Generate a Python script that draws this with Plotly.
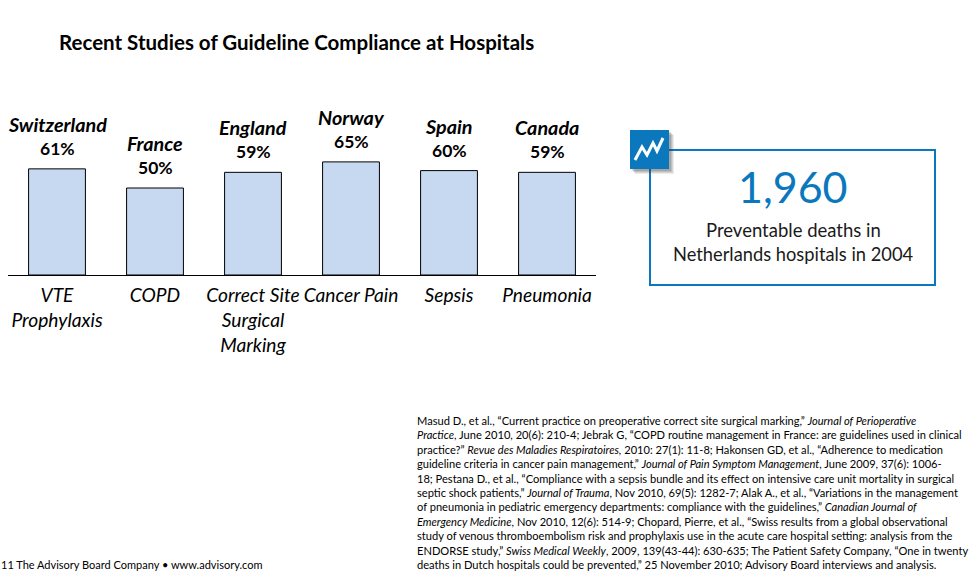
import plotly.graph_objects as go

categories = ["<i>VTE<br>Prophylaxis</i>", "<i>COPD</i>", "<i>Correct Site<br>Surgical<br>Marking</i>", "<i>Cancer Pain</i>", "<i>Sepsis</i>", "<i>Pneumonia</i>"]
countries = ["Switzerland", "France", "England", "Norway", "Spain", "Canada"]
values = [61, 50, 59, 65, 60, 59]
title_text = "Recent Studies of Guideline Compliance at Hospitals"
callout_number = "1,960"
callout_lines = ["Preventable deaths in", "Netherlands hospitals in 2004"]
footer_text = "11 The Advisory Board Company • www.advisory.com"
source_lines = [
    "Masud D., et al., “Current practice on preoperative correct site surgical marking,” <i>Journal of Perioperative</i>",
    "<i>Practice</i>, June 2010, 20(6): 210-4; Jebrak G, “COPD routine management in France: are guidelines used in clinical",
    "practice?” <i>Revue des Maladies Respiratoires,</i> 2010: 27(1): 11-8; Hakonsen GD, et al., “Adherence to medication",
    "guideline criteria in cancer pain management,” <i>Journal of Pain Symptom Management</i>, June 2009, 37(6): 1006-",
    "18; Pestana D., et al., “Compliance with a sepsis bundle and its effect on intensive care unit mortality in surgical",
    "septic shock patients,” <i>Journal of Trauma</i>, Nov 2010, 69(5): 1282-7; Alak A., et al., “Variations in the management",
    "of pneumonia in pediatric emergency departments: compliance with the guidelines,” <i>Canadian Journal of</i>",
    "<i>Emergency Medicine</i>, Nov 2010, 12(6): 514-9; Chopard, Pierre, et al., “Swiss results from a global observational",
    "study of venous thromboembolism risk and prophylaxis use in the acute care hospital setting: analysis from the",
    "ENDORSE study,” <i>Swiss Medical Weekly</i>, 2009, 139(43-44): 630-635; The Patient Safety Company, “One in twenty",
    "deaths in Dutch hospitals could be prevented,” 25 November 2010; Advisory Board interviews and analysis.",
]

W, H = 973, 572
L, R, T, B = 8, 596, 101, 275
FONT = "Lato"
BLUE = "#0B78BE"

def px(x):
    return (x - L) / (R - L)

def py(y):
    return (B - y) / (B - T)

xs = list(range(len(values)))
fig = go.Figure(go.Bar(
    x=xs, y=values,
    marker=dict(color="#C6D9F1", line=dict(color="#000000", width=1)),
    width=0.58,
))

shapes = []
for off, op in [(5, 0.10), (4, 0.12), (3, 0.15), (2, 0.18)]:
    shapes.append(dict(type="rect", xref="paper", yref="paper", x0=px(630 + off), x1=px(669 + off),
                       y0=py(130 + off), y1=py(169 + off), fillcolor=f"rgba(60,60,60,{op})", line_width=0, layer="above"))
shapes.append(dict(type="rect", xref="paper", yref="paper", x0=px(650), x1=px(935), y0=py(150), y1=py(285),
                   line=dict(color=BLUE, width=2), fillcolor="rgba(0,0,0,0)", layer="below"))
shapes.append(dict(type="rect", xref="paper", yref="paper", x0=px(630), x1=px(669), y0=py(130), y1=py(169),
                   fillcolor=BLUE, line_width=0, layer="above"))
zig = [(635, 160), (642, 147), (647, 155), (653, 143), (657, 151), (663, 138)]
path = "M " + " L ".join(f"{px(a):.5f},{py(b):.5f}" for a, b in zig)
shapes.append(dict(type="path", xref="paper", yref="paper", path=path, line=dict(color="#FFFFFF", width=3), layer="above"))

def note(x, y, text, size, color="#000000", anchor="left"):
    return dict(xref="paper", yref="paper", x=px(x), y=py(y), text=text, showarrow=False,
                xanchor=anchor, yanchor="middle", align=anchor, borderpad=0,
                font=dict(family=FONT, size=size, color=color))

anns = [
    note(58, 42, f"<b>{title_text}</b>", 20.5),
    note(793, 186, callout_number, 43, BLUE, "center"),
    note(793, 230, callout_lines[0], 18.5, "#1a1a1a", "center"),
    note(793, 254, callout_lines[1], 18.3, "#1a1a1a", "center"),
    note(0, 564, footer_text, 11),
]
for i, line in enumerate(source_lines):
    anns.append(note(416, 420.5 + i * 14.4, line, 11.1))
for x, c, v in zip(xs, countries, values):
    anns.append(dict(x=x, y=v, xref="x", yref="y", text=f"<b>{v}%</b>", showarrow=False, yanchor="middle",
                     yshift=20.5, font=dict(family=FONT, size=17.5, color="#000000")))
    anns.append(dict(x=x, y=v, xref="x", yref="y", text=f"<b><i>{c}</i></b>", showarrow=False, yanchor="middle",
                     yshift=45, font=dict(family=FONT, size=19.8, color="#000000")))

fig.update_layout(
    width=W, height=H, autosize=False, showlegend=False, bargap=0.42,
    margin=dict(l=L, r=W - R, t=T, b=H - B, pad=0),
    paper_bgcolor="#FFFFFF", plot_bgcolor="#FFFFFF",
    font=dict(family=FONT),
    xaxis=dict(tickmode="array", tickvals=xs, ticktext=categories,
               range=[-0.5, 5.5], showgrid=False, zeroline=False, showline=True, linecolor="#000000", linewidth=1,
               ticks="", ticklen=0, tickangle=0, ticklabelstandoff=3,
               tickfont=dict(family=FONT, size=19.2, color="#000000"), fixedrange=True),
    yaxis=dict(range=[0, 100], visible=False, fixedrange=True),
    shapes=shapes, annotations=anns,
)
fig.write_html("out.html", config={"displayModeBar": False},
               post_script="document.body.style.margin='0';document.body.style.overflow='hidden';")
